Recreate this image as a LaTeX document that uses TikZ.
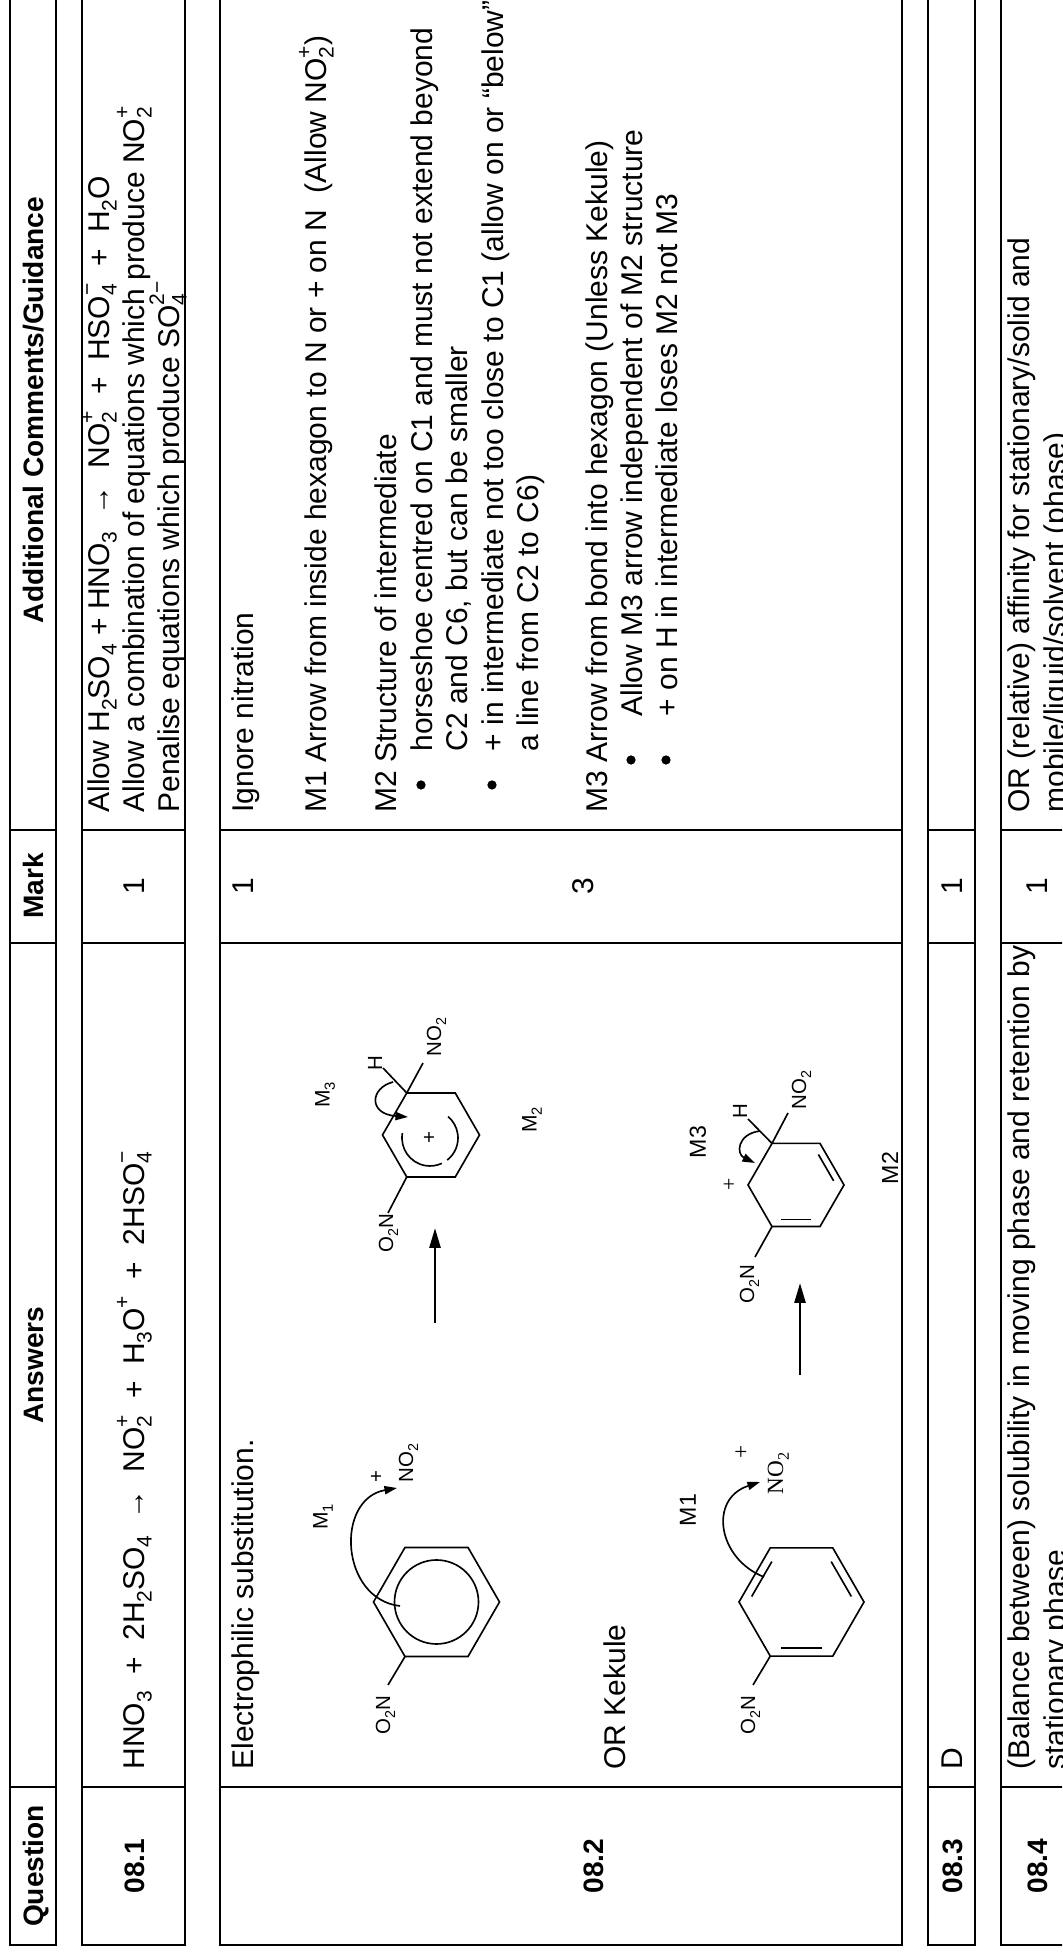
\documentclass[tikz,border=0pt]{standalone}
\usepackage{fontspec}
\setmainfont{Liberation Sans}
\newfontfamily\serifchem{Liberation Serif}
\usetikzlibrary{arrows.meta,calc}

\makeatletter
\newcommand{\sbx}[1]{\raisebox{-0.25em}{\fontsize{\fpeval{0.7*\f@size}}{1}\selectfont #1}}
\newcommand{\spx}[1]{\raisebox{0.5em}{\fontsize{\fpeval{0.7*\f@size}}{1}\selectfont #1}}
\makeatother
\newcommand{\ionss}[2]{\rlap{\sbx{#1}}\spx{#2}}
\newcommand{\chgap}{\hspace{0.55em}}

\tikzset{
  rule/.style={line width=0.85pt},
  hdr/.style={font=\fontsize{10.3}{12}\selectfont\bfseries, inner sep=0pt, anchor=base},
  txt/.style={font=\fontsize{11}{13}\selectfont, inner sep=0pt, anchor=base west},
  mid/.style={font=\fontsize{11}{13}\selectfont, inner sep=0pt, anchor=base},
  dot/.style={circle, fill, inner sep=0pt, minimum size=3.4pt},
  chem/.style={font=\fontsize{7.5}{9}\selectfont, inner sep=0pt},
  mlab/.style={font=\fontsize{7.7}{9}\selectfont, inner sep=0pt},
  mlabb/.style={font=\fontsize{8.5}{10}\selectfont, inner sep=0pt},
  bond/.style={line width=0.6pt},
  rxn/.style={line width=1pt, -{Triangle[length=7.3pt,width=4pt]}},
  curly/.style={line width=0.6pt, -{Triangle[length=4.6pt,width=3pt]}},
}

\begin{document}
\begin{tikzpicture}[x=0.36667pt, y=0.36667pt]
\useasboundingbox (0,0) rectangle (1062,1954);
\clip (0,0) rectangle (1062,1954);
\begin{scope}[rotate=90, transform shape]

% table rows
\foreach \t/\b in {10/56,82/185,220/902,928/975,1001/1090} {
  \draw[rule] (9,-\t) rectangle (1968,-\b);
  \foreach \c in {167,1011,1124} \draw[rule] (\c,-\t) -- (\c,-\b);
}

% header
\node[hdr] (hq) at (88,-43) {Question};
\node[hdr] (ha) at (589,-43) {Answers};
\node[hdr] (hm) at (1068,-43) {Mark};
\node[hdr] (hc) at (1544,-43) {Additional Comments/Guidance};

% 08.1
\node[hdr] (q1) at (88,-144) {08.1};
\node[txt] (a1) at (184,-144) {HNO\sbx{3}\chgap+\chgap 2H\sbx{2}SO\sbx{4}\chgap→\chgap NO\ionss{2}{+}\chgap+\chgap H\sbx{3}O\spx{+}\chgap+\chgap 2HSO\ionss{4}{−}};
\node[mid] (m1) at (1068,-144) {1};
\node[txt] (c1a) at (1141,-109) {Allow H\sbx{2}SO\sbx{4} + HNO\sbx{3}\chgap→\chgap NO\ionss{2}{+}\chgap+\chgap HSO\ionss{4}{−}\chgap+\chgap H\sbx{2}O};
\node[txt] (c1b) at (1141,-144) {Allow a combination of equations which produce NO\ionss{2}{+}};
\node[txt] (c1c) at (1141,-179) {Penalise equations which produce SO\ionss{4}{2−}};

% 08.2
\node[hdr] (q2) at (88,-603) {08.2};
\node[txt] (a2) at (184,-253) {Electrophilic substitution.};
\node[txt] (kek) at (184,-625) {OR Kekule};
\node[mid] (m2a) at (1068,-253) {1};
\node[mid] (m2b) at (1068,-593) {3};
\node[txt] (c2a) at (1141,-253) {Ignore nitration};
\node[txt] (c2b) at (1141,-326) {M1 Arrow from inside hexagon to N or + on N\chgap (Allow NO\ionss{2}{+})};
\node[txt] (c2c) at (1141,-396) {M2 Structure of intermediate};
\node[dot] (b2a) at (1169,-421) {};
\node[txt] (c2d) at (1202,-432) {horseshoe centred on C1 and must not extend beyond};
\node[txt] (c2e) at (1202,-467) {C2 and C6, but can be smaller};
\node[dot] (b2b) at (1169,-492) {};
\node[txt] (c2f) at (1202,-503) {+ in intermediate not too close to C1 (allow on or “below”};
\node[txt] (c2g) at (1202,-538) {a line from C2 to C6)};
\node[txt] (c2h) at (1141,-607) {M3 Arrow from bond into hexagon (Unless Kekule)};
\node[dot] (b2c) at (1194,-631) {};
\node[txt] (c2i) at (1237,-642) {Allow M3 arrow independent of M2 structure};
\node[dot] (b2d) at (1194,-666) {};
\node[txt] (c2j) at (1237,-677) {+ on H in intermediate loses M2 not M3};

% scheme 1: nitrobenzene with circle
\coordinate (sc1) at (352,-436.5);
\foreach \a [count=\i] in {90,30,-30,-90,-150,150}
  \coordinate (s\i) at ([shift={(\a:63)}]sc1);
\draw[bond] (s1)--(s2)--(s3)--(s4)--(s5)--(s6)--cycle;
\draw[bond] (sc1) circle (42);
\coordinate (s6n) at (269,-388);
\draw[bond] (s6) -- (s6n);
\node[chem, anchor=base east] (s1o) at (259,-390) {O\sbx{2}N};
\node[mlab] (s1m) at (437,-323) {M\sbx{1}};
\node[chem, anchor=base west] (s1no) at (471,-413) {NO\sbx{2}};
\node[chem] (s1p) at (477,-377) {+};
\coordinate (s1t) at (348,-400);
\coordinate (s1h) at (466,-397);
\draw[curly] (s1t) .. controls (355,-340) and (455,-335) .. (s1h);

\coordinate (r1a) at (631,-435);
\coordinate (r1b) at (726,-435);
\draw[rxn] (r1a) -- (r1b);

% scheme 1: intermediate
\coordinate (ic1) at (819,-431);
\foreach \a [count=\i] in {90,30,-30,-90,-150,150}
  \coordinate (i\i) at ([shift={(\a:48.5)}]ic1);
\draw[bond] (i1)--(i2)--(i3)--(i4)--(i5)--(i6)--cycle;
\coordinate (i6n) at (741,-388);
\draw[bond] (i6) -- (i6n);
\node[chem, anchor=base east] (i1o) at (741,-393) {O\sbx{2}N};
\coordinate (i2h) at (886,-383);
\draw[bond] (i2) -- (i2h);
\node[chem] (i1h) at (891,-375) {H};
\coordinate (i2n) at (891,-423);
\draw[bond] (i2) -- (i2n);
\node[chem, anchor=base west] (i1no) at (897,-441) {NO\sbx{2}};
\coordinate (hs1) at (816,-430);
\draw[bond] ([shift={(80:28)}]hs1) arc[start angle=80, end angle=205, radius=28];
\draw[bond] ([shift={(218:28)}]hs1) arc[start angle=218, end angle=320, radius=28];
\node[chem] (i1p) at (hs1) {+};
\coordinate (i1t) at (872,-393);
\coordinate (i1e) at (837,-408);
\draw[curly] (i1t) .. controls (866,-370) and (840,-368) .. (i1e);
\node[mlab] (i1m3) at (859,-325) {M\sbx{3}};
\node[mlab] (i1m2) at (834,-532) {M\sbx{2}};

% scheme 2: Kekule nitrobenzene
\coordinate (kc) at (352,-801.5);
\foreach \a [count=\i] in {90,30,-30,-90,-150,150} {
  \coordinate (k\i) at ([shift={(\a:62.5)}]kc);
  \coordinate (kk\i) at ([shift={(\a:53)}]kc);
}
\draw[bond] (k1)--(k2)--(k3)--(k4)--(k5)--(k6)--cycle;
\foreach \p/\q in {1/2,3/4,5/6}
  \draw[bond] ($(kk\p)!0.12!(kk\q)$) -- ($(kk\p)!0.88!(kk\q)$);
\coordinate (k6n) at (269,-753);
\draw[bond] (k6) -- (k6n);
\node[chem, anchor=base east] (k1o) at (259,-755) {O\sbx{2}N};
\node[mlabb] (k1m) at (444,-688) {M1};
\node[font=\serifchem\fontsize{8.5}{10}\selectfont, inner sep=0pt, anchor=base west] (k1no) at (459,-783) {NO\sbx{2}};
\node[font=\serifchem\fontsize{8.5}{10}\selectfont, inner sep=0pt] (k1p) at (502,-742) {+};
\coordinate (k1t) at (377,-764);
\coordinate (k1h) at (472,-760);
\draw[curly] (k1t) .. controls (395,-718) and (455,-708) .. (k1h);

\coordinate (r2a) at (579,-800);
\coordinate (r2b) at (671,-800);
\draw[rxn] (r2a) -- (r2b);

% scheme 2: intermediate
\coordinate (jc) at (769,-796);
\foreach \a [count=\i] in {90,30,-30,-90,-150,150} {
  \coordinate (j\i) at ([shift={(\a:48)}]jc);
  \coordinate (jj\i) at ([shift={(\a:40)}]jc);
}
\draw[bond] (j1)--(j2)--(j3)--(j4)--(j5)--(j6)--cycle;
\foreach \p/\q in {3/4,5/6}
  \draw[bond] ($(jj\p)!0.12!(jj\q)$) -- ($(jj\p)!0.88!(jj\q)$);
\node[font=\serifchem\fontsize{8}{10}\selectfont, inner sep=0pt] (j1p) at (770,-730) {+};
\coordinate (j6n) at (697,-755);
\draw[bond] (j6) -- (j6n);
\node[chem, anchor=base east] (j1o) at (690,-754) {O\sbx{2}N};
\coordinate (j2h) at (835,-748);
\draw[bond] (j2) -- (j2h);
\node[chem] (j1h) at (843,-740) {H};
\coordinate (j2n) at (841,-788);
\draw[bond] (j2) -- (j2n);
\node[chem, anchor=base west] (j1no) at (844,-806) {NO\sbx{2}};
\coordinate (j1t) at (823,-760);
\coordinate (j1e) at (791,-755);
\draw[curly] (j1t) .. controls (820,-737) and (800,-736) .. (j1e);
\node[mlabb] (j1m3) at (812,-698) {M3};
\node[mlabb] (j1m2) at (786,-890) {M2};

% 08.3
\node[hdr] (q3) at (88,-962) {08.3};
\node[txt] (a3) at (184,-962) {D};
\node[mid] (m3) at (1068,-962) {1};

% 08.4
\node[hdr] (q4) at (88,-1047) {08.4};
\node[txt] (a4a) at (184,-1029) {(Balance between) solubility in moving phase and retention by};
\node[txt] (a4b) at (184,-1065) {stationary phase};
\node[mid] (m4) at (1068,-1047) {1};
\node[txt] (c4a) at (1141,-1029) {OR (relative) affinity for stationary/solid and};
\node[txt] (c4b) at (1141,-1065) {mobile/liquid/solvent (phase)};

\end{scope}
\end{tikzpicture}
\end{document}
